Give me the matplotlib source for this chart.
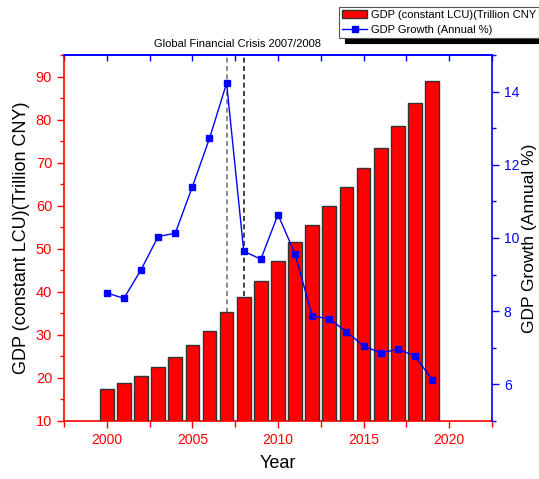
import matplotlib
matplotlib.use("Agg")
import matplotlib.pyplot as plt
from matplotlib.ticker import MultipleLocator

plt.rcParams['font.family'] = ['Liberation Sans', 'DejaVu Sans']

# ---- data ----
years = [2000, 2001, 2002, 2003, 2004, 2005, 2006, 2007, 2008, 2009,
         2010, 2011, 2012, 2013, 2014, 2015, 2016, 2017, 2018, 2019]
gdp_trillion = [17.35, 18.75, 20.4, 22.5, 24.8, 27.6, 31.0, 35.4, 38.8, 42.5,
                47.1, 51.6, 55.6, 59.9, 64.3, 68.8, 73.5, 78.5, 83.9, 89.0]
gdp_growth = [8.5, 8.35, 9.13, 10.04, 10.13, 11.4, 12.72, 14.23, 9.64, 9.42,
              10.64, 9.56, 7.87, 7.79, 7.44, 7.05, 6.86, 6.96, 6.78, 6.13]
crisis_years = [2007, 2008]
crisis_colors = ['#777777', '#222222']

RED = '#ff0000'
BLUE = '#0000ff'

fig = plt.figure(figsize=(5.39, 4.79), dpi=100)
ax = fig.add_axes([0.1187, 0.1211, 0.794, 0.7641])
ax2 = ax.twinx()

# ---- bars (left axis) ----
bars = ax.bar(years, gdp_trillion, width=0.8, color=RED, edgecolor='#333333',
              linewidth=1.0, zorder=3, label='GDP (constant LCU)(Trillion CNY')

# crisis markers, drawn behind the bars
for yr, c in zip(crisis_years, crisis_colors):
    ax.axvline(yr, color=c, linewidth=1.2, linestyle=(0, (3, 2)), zorder=2)

ax.set_xlim(1997.5, 2022.5)
ax.set_ylim(10, 95)

# ---- growth line (right axis) ----
line, = ax2.plot(years, gdp_growth, color=BLUE, linewidth=1.0, marker='s',
                 markersize=5, markerfacecolor=BLUE, markeredgecolor=BLUE,
                 label='GDP Growth (Annual %)')
ax2.set_ylim(5, 15)

# ---- ticks ----
ax.xaxis.set_major_locator(MultipleLocator(5))
ax.xaxis.set_minor_locator(MultipleLocator(2.5))
ax.yaxis.set_major_locator(MultipleLocator(10))
ax.yaxis.set_minor_locator(MultipleLocator(5))
ax2.yaxis.set_major_locator(MultipleLocator(2))
ax2.yaxis.set_minor_locator(MultipleLocator(1))

ax.tick_params(axis='x', which='both', direction='out', colors=RED,
               labelsize=10, width=1.0)
ax.tick_params(axis='x', which='major', length=5)
ax.tick_params(axis='x', which='minor', length=4)
ax.tick_params(axis='y', which='both', direction='out', colors=RED,
               labelsize=10.5, width=1.0)
ax.tick_params(axis='y', which='major', length=5)
ax.tick_params(axis='y', which='minor', length=3)
ax2.tick_params(axis='y', which='both', direction='out', colors=BLUE,
                labelsize=10, width=1.0)
ax2.tick_params(axis='y', which='major', length=5)
ax2.tick_params(axis='y', which='minor', length=3)

top = ax.secondary_xaxis('top')
top.xaxis.set_major_locator(MultipleLocator(2.5))
top.tick_params(direction='in', length=4, width=1.0, colors=BLUE,
                labeltop=False)
top.spines['top'].set_color(BLUE)
top.spines['top'].set_linewidth(1.2)

# ---- spines ----
ax.spines['left'].set_color(RED)
ax.spines['bottom'].set_color(RED)
ax.spines['top'].set_color(BLUE)
ax.spines['right'].set_visible(False)
ax2.spines['right'].set_color(BLUE)
ax2.spines['left'].set_visible(False)
ax2.spines['bottom'].set_visible(False)
ax2.spines['top'].set_visible(False)
for s in ['left', 'bottom', 'top']:
    ax.spines[s].set_linewidth(1.2)
ax2.spines['right'].set_linewidth(1.2)

# ---- labels ----
ax.set_xlabel('Year', fontsize=13, labelpad=6)
ax.set_ylabel('GDP (constant LCU)(Trillion CNY)', fontsize=13, labelpad=4)
ax2.set_ylabel('GDP Growth (Annual %)', fontsize=12.5, labelpad=2)

fig.text(0.441, 0.908, 'Global Financial Crisis 2007/2008', fontsize=8,
         ha='center', va='center')

# ---- legend ----
leg = fig.legend([bars, line],
                 ['GDP (constant LCU)(Trillion CNY', 'GDP Growth (Annual %)'],
                 loc='upper left', bbox_to_anchor=(339 / 539, 1 - 7 / 479),
                 fontsize=8, frameon=True, fancybox=False, framealpha=1,
                 edgecolor='#555555', borderpad=0.25, handlelength=2.3,
                 handletextpad=0.35, labelspacing=0.45, borderaxespad=0,
                 shadow={'ox': 4, 'oy': -4, 'color': 'black', 'alpha': 1})
leg.get_frame().set_linewidth(0.8)

fig.savefig('out.png', dpi=100)
